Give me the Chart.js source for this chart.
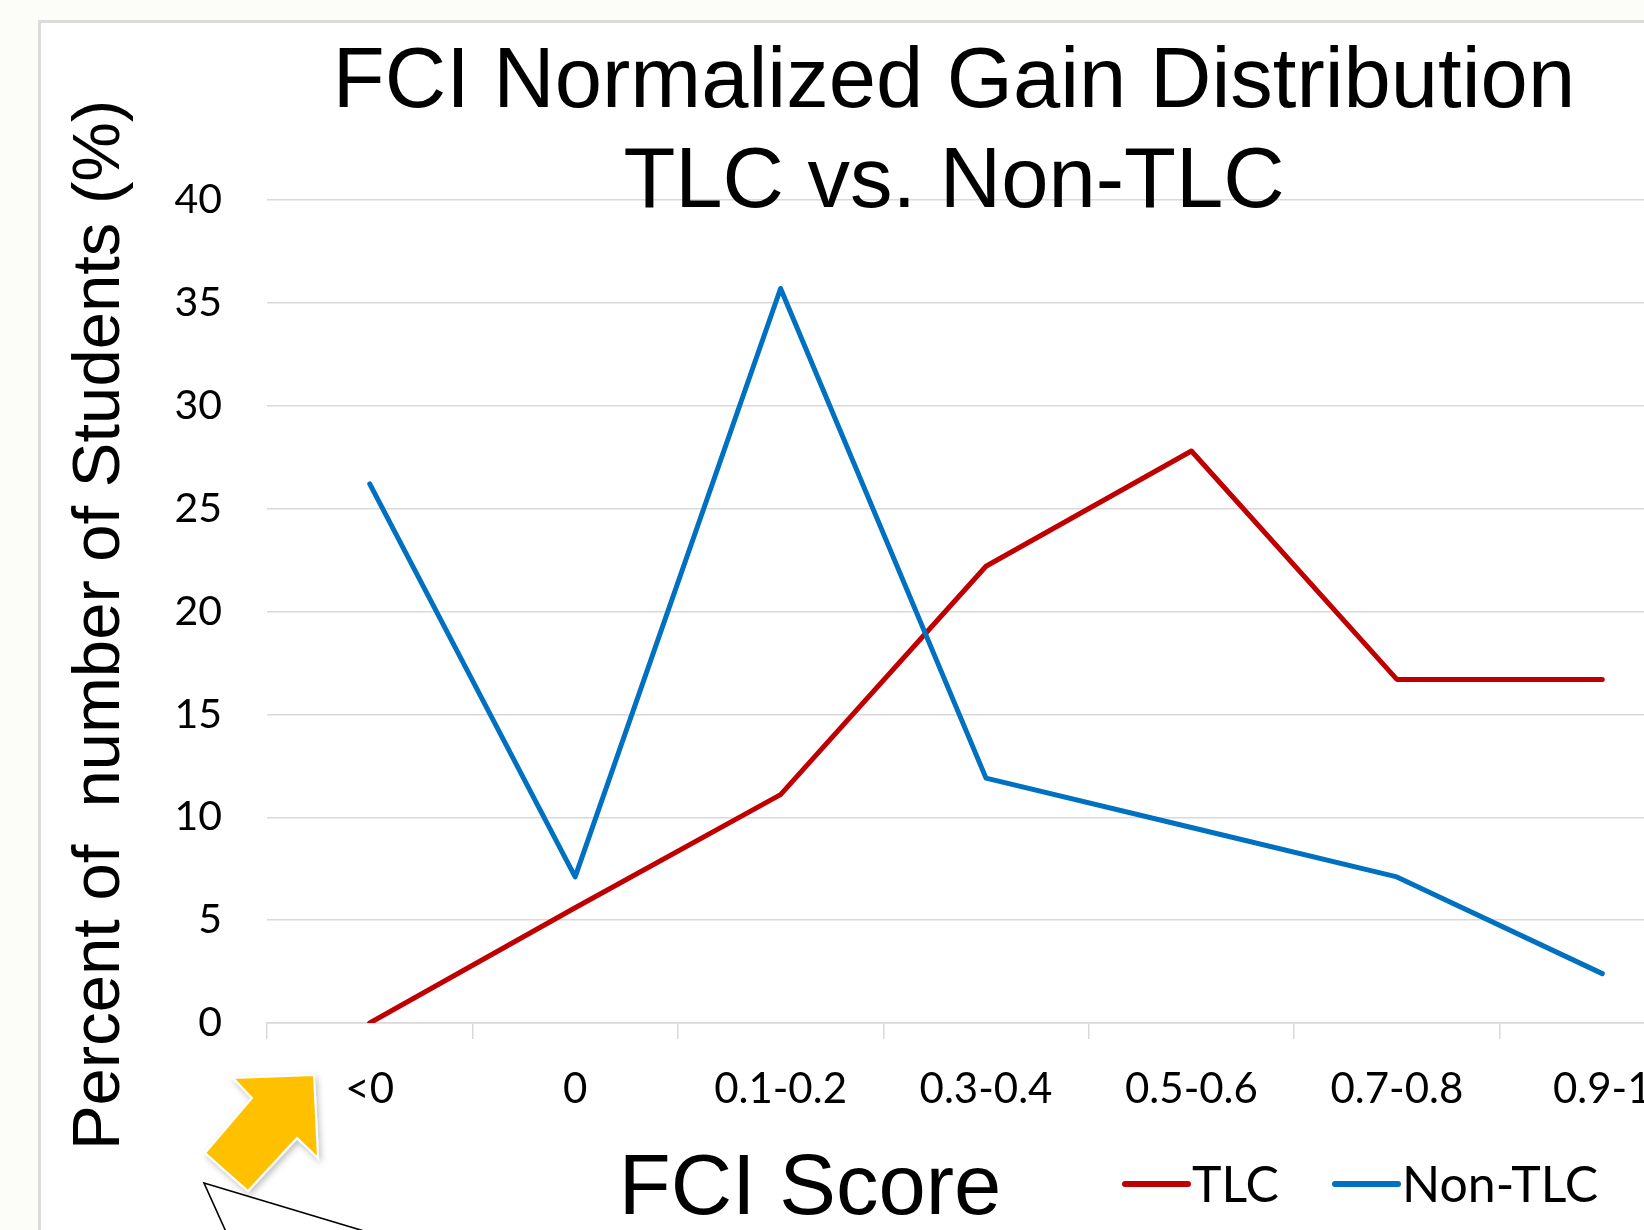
<!DOCTYPE html>
<html>
<head>
<meta charset="utf-8">
<script src="https://cdn.jsdelivr.net/npm/chart.js@4.4.1/dist/chart.umd.min.js"></script>
<style>
  html, body { margin: 0; padding: 0; width: 1644px; height: 1230px; overflow: hidden; background: #fcfcf9; }
  #frame { position: absolute; left: 38px; top: 20px; width: 1800px; height: 1400px; background: #fff; border: 3px solid #dcdcdc; }
  #chart { position: absolute; left: 0; top: 0; }
  #marks { position: absolute; left: 0; top: 0; }
</style>
</head>
<body>
<div id="frame"></div>
<canvas id="chart" width="1908" height="1230" style="width:1908px;height:1230px"></canvas>
<svg id="marks" width="1644" height="1230">
  <defs>
    <filter id="shadow" x="-20%" y="-20%" width="140%" height="140%">
      <feDropShadow dx="2" dy="3" stdDeviation="3" flood-color="#000" flood-opacity="0.25"/>
    </filter>
  </defs>
  <polyline points="227,1234 204,1183 374,1234" fill="#fff" stroke="#000" stroke-width="1.6"/>
  <polygon points="314,1075 233,1078 252,1098 205,1153 248,1191 297,1138 318,1158"
           fill="#ffc000" stroke="#fff" stroke-width="2" filter="url(#shadow)"/>
</svg>
<script>
const categories = ["<0", "0", "0.1-0.2", "0.3-0.4", "0.5-0.6", "0.7-0.8", "0.9-1"];
const tlcValues = [0, 5.6, 11.1, 22.2, 27.8, 16.7, 16.7];
const nonTlcValues = [26.2, 7.1, 35.7, 11.9, 9.5, 7.1, 2.4];
const yTicks = [0, 40, 5]; // min, max, step

const titleLines = ["FCI Normalized Gain Distribution", "TLC vs. Non-TLC"];
const yTitle = "Percent of  number of Students (%)";
const xTitle = "FCI Score";

const arial = "'Liberation Sans', Arial, sans-serif";
const calibri = "Lato, 'Open Sans', sans-serif";

// axis titles and legend are separate text boxes on the slide, so they are placed here
const slideText = {
  id: "slideText",
  afterDraw(chart) {
    const ctx = chart.ctx;
    ctx.save();
    ctx.fillStyle = "#000";
    ctx.textBaseline = "alphabetic";
    ctx.textAlign = "center";
    ctx.font = "85px " + arial;
    ctx.fillText(xTitle, 810, 1214);

    ctx.save();
    ctx.translate(101, 625);
    ctx.rotate(-Math.PI / 2);
    ctx.textBaseline = "middle";
    ctx.font = "67px " + arial;
    ctx.fillText(yTitle, 0, 0);
    ctx.restore();

    const starts = [1125, 1335];
    ctx.textAlign = "left";
    ctx.font = "50px " + calibri;
    chart.data.datasets.forEach((ds, i) => {
      const x = starts[i];
      ctx.strokeStyle = ds.borderColor;
      ctx.lineWidth = 6;
      ctx.lineCap = "round";
      ctx.beginPath();
      ctx.moveTo(x, 1184);
      ctx.lineTo(x + 63, 1184);
      ctx.stroke();
      ctx.fillText(ds.label, x + 67, 1202);
    });
    ctx.restore();
  },
};

const chart = new Chart(document.getElementById("chart"), {
  type: "line",
  data: {
    labels: categories,
    datasets: [
      {
        label: "TLC",
        data: tlcValues,
        borderColor: "#c00000",
        borderWidth: 5,
        pointRadius: 0,
        tension: 0,
        borderCapStyle: "round",
        borderJoinStyle: "round",
        order: 1,
      },
      {
        label: "Non-TLC",
        data: nonTlcValues,
        borderColor: "#0070c0",
        borderWidth: 5,
        pointRadius: 0,
        tension: 0,
        borderCapStyle: "round",
        borderJoinStyle: "round",
        order: 0,
      },
    ],
  },
  options: {
    responsive: false,
    animation: false,
    layout: { padding: 0 },
    plugins: {
      legend: { display: false },
      tooltip: { enabled: false },
      title: {
        display: true,
        text: titleLines,
        color: "#000",
        font: { family: arial, size: 85, weight: "normal", lineHeight: 100 / 85 },
        padding: { top: 34, bottom: -34 },
      },
    },
    scales: {
      x: {
        offset: true,
        grid: { drawOnChartArea: false, drawTicks: true, tickLength: 16, offset: true, color: "#d9d9d9", lineWidth: 1.5 },
        border: { display: true, color: "#d9d9d9", width: 1.5 },
        ticks: { color: "#000", font: { family: calibri, size: 42 }, padding: 25, maxRotation: 0, autoSkip: false },
        afterFit: (s) => { s.height = 207; },
      },
      y: {
        min: yTicks[0],
        max: yTicks[1],
        ticks: { stepSize: yTicks[2], padding: 45, color: "#000", font: { family: calibri, size: 41 } },
        grid: { color: "#d9d9d9", lineWidth: 1.5, drawTicks: false },
        border: { display: false },
        afterFit: (s) => { s.width = 267; },
      },
      // empty right box so the full width title centres where the slide has it
      spacer: {
        type: "linear",
        position: "right",
        ticks: { display: false },
        grid: { display: false },
        border: { display: false },
        afterFit: (s) => { s.width = 203; },
      },
    },
  },
  plugins: [slideText],
});
</script>
</body>
</html>
